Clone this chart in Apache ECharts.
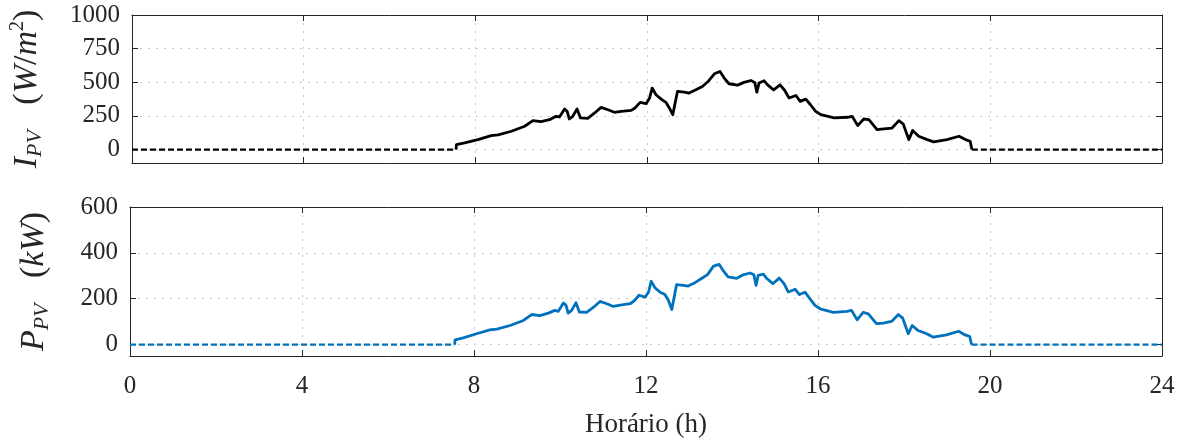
<!DOCTYPE html>
<html>
<head>
<meta charset="utf-8">
<script src="https://cdn.jsdelivr.net/npm/echarts@6/dist/echarts.min.js"></script>
<style>
  html, body { margin: 0; padding: 0; background: #fff; }
  #chart { width: 1184px; height: 439px; }
</style>
</head>
<body>
<div id="chart"></div>
<script>
// Hour of day (h)
const hours = [0, 7.55, 7.56, 7.75, 8.06, 8.37, 8.53, 8.84, 9.15, 9.34, 9.53, 9.73, 9.88, 9.96,
  10.08, 10.14, 10.19, 10.27, 10.37, 10.45, 10.62, 10.78, 10.93, 11.09, 11.24, 11.40, 11.63,
  11.72, 11.84, 11.98, 12.06, 12.12, 12.21, 12.33, 12.44, 12.52, 12.60, 12.71, 12.87, 12.98,
  13.14, 13.29, 13.43, 13.57, 13.70, 13.80, 13.91, 14.11, 14.26, 14.42, 14.51, 14.56, 14.61,
  14.73, 14.81, 14.95, 15.10, 15.21, 15.31, 15.47, 15.57, 15.70, 15.81, 15.93, 16.05, 16.36,
  16.67, 16.78, 16.91, 17.05, 17.17, 17.36, 17.52, 17.71, 17.87, 17.97, 18.10, 18.19, 18.33,
  18.53, 18.68, 18.99, 19.27, 19.42, 19.53, 19.57, 24];

// Solar irradiance I_PV (W/m²)
const irradiance = [0, 0, 37, 50, 74, 104, 109, 136, 173, 215, 207, 222, 247, 242,
  301, 284, 227, 247, 301, 235, 232, 272, 313, 296, 277, 284, 291,
  309, 351, 341, 383, 457, 407, 375, 351, 309, 259, 432, 427, 420,
  444, 469, 508, 563, 580, 531, 489, 479, 499, 513, 499, 427, 494,
  511, 481, 444, 481, 439, 383, 402, 358, 375, 333, 284, 259, 235,
  240, 247, 178, 227, 222, 148, 153, 160, 215, 190, 74, 141, 99,
  74, 57, 74, 99, 74, 62, 0, 0];

// PV power P_PV (kW)
const power = [0, 0, 20, 29, 47, 64, 67, 83, 105, 131, 126, 137, 149, 145,
  181, 171, 137, 149, 182, 142, 140, 163, 188, 178, 166, 172, 178,
  190, 215, 207, 229, 276, 247, 228, 218, 193, 153, 261, 258, 255,
  270, 288, 305, 342, 350, 321, 295, 289, 304, 312, 304, 258, 302,
  307, 288, 266, 290, 266, 229, 241, 218, 228, 200, 171, 156, 140,
  145, 149, 108, 140, 134, 91, 93, 101, 131, 115, 47, 83, 61,
  47, 32, 42, 58, 42, 35, 0, 0];

const irrTicks = [0, 250, 500, 750, 1000];
const powTicks = [0, 200, 400, 600];

// Split each curve into the flat night-time stretches (dashed) and the daytime part (solid)
function splitRuns(values) {
  const first = values.findIndex(v => v > 0);
  let last = values.length - 1;
  while (values[last] <= 0) last--;
  const day = [], night = [];
  for (let i = first - 1; i <= last + 1; i++) day.push([hours[i], values[i]]);
  for (let i = 0; i < first; i++) night.push([hours[i], values[i]]);
  night.push([hours[first - 1], null]);
  for (let i = last + 1; i < hours.length; i++) night.push([hours[i], values[i]]);
  return { day, night };
}

const FONT = 'Liberation Serif';
const TXT = '#262626';
const tickFont = { fontFamily: FONT, fontSize: 25, color: TXT };
const gridDot = { show: true, lineStyle: { color: '#c8c8c8', type: [2, 6], width: 1 } };
const frameLine = { show: true, onZero: false, lineStyle: { color: TXT, width: 1 } };
const tickStyle = { show: true, inside: true, length: 6, lineStyle: { color: TXT } };

// Dotted horizontal guides at the tick values (the top one coincides with the frame)
function hGrid(vals) {
  return {
    silent: true, symbol: 'none', label: { show: false }, z: 0,
    lineStyle: { color: '#c8c8c8', type: [2, 6], width: 1 },
    data: vals.slice(0, -1).map(v => ({ yAxis: v })), animation: false
  };
}

const irr = splitRuns(irradiance);
const pow = splitRuns(power);

const richName = {
  i: { fontFamily: FONT, fontStyle: 'italic', fontSize: 34, color: TXT, verticalAlign: 'middle', lineHeight: 38 },
  n: { fontFamily: FONT, fontSize: 34, color: TXT, verticalAlign: 'middle', lineHeight: 38 },
  s: { fontFamily: FONT, fontStyle: 'italic', fontSize: 22, color: TXT, verticalAlign: 'bottom', lineHeight: 22 },
  p: { fontFamily: FONT, fontSize: 20, color: TXT, verticalAlign: 'top', lineHeight: 20 }
};

const xBase = (gridIndex, showLabels) => ({
  type: 'value', gridIndex, min: 0, max: 24, interval: 4,
  axisLine: frameLine, axisTick: tickStyle,
  axisLabel: Object.assign({ show: showLabels, margin: 18 }, tickFont),
  splitLine: gridDot
});
const xTop = (gridIndex) => ({
  type: 'value', gridIndex, position: 'top', min: 0, max: 24, interval: 4,
  axisLine: frameLine, axisTick: tickStyle,
  axisLabel: { show: false }, splitLine: { show: false }
});
const yAxisDef = (gridIndex, min, max, ticks, position, withLabels, name, gap) => ({
  type: 'value', gridIndex, min, max, position,
  axisLine: frameLine,
  axisTick: Object.assign({ customValues: ticks }, tickStyle),
  axisLabel: Object.assign({ show: withLabels, margin: 12, customValues: ticks, formatter: v => String(v) }, tickFont),
  splitLine: { show: false },
  name: name || '', nameLocation: 'middle', nameRotate: 90, nameGap: gap || 0,
  nameTextStyle: { rich: richName }
});

const option = {
  animation: false,
  backgroundColor: '#fff',
  grid: [
    { left: 130, right: 22, top: 15, height: 148 },
    { left: 130, right: 22, top: 207, height: 149 }
  ],
  xAxis: [
    xBase(0, false), xTop(0),
    Object.assign(xBase(1, true), {
      name: 'Horário (h)', nameLocation: 'middle', nameGap: 55,
      nameTextStyle: { fontFamily: FONT, fontSize: 27, color: TXT }
    }),
    xTop(1)
  ],
  yAxis: [
    yAxisDef(0, -100, 1000, irrTicks, 'left', true, '{i|I}{s|PV}{n|   (}{i|W}{n|/}{i|m}{p|2}{n|)}', 86),
    yAxisDef(0, -100, 1000, irrTicks, 'right', false),
    yAxisDef(1, -50, 600, powTicks, 'left', true, '{i|P}{s|PV}{n|   (}{i|kW}{n|)}', 77),
    yAxisDef(1, -50, 600, powTicks, 'right', false)
  ],
  series: [
    { type: 'line', xAxisIndex: 0, yAxisIndex: 0, data: [], z: 0, markLine: hGrid(irrTicks), silent: true },
    { type: 'line', xAxisIndex: 2, yAxisIndex: 2, data: [], z: 0, markLine: hGrid(powTicks), silent: true },
    { type: 'line', xAxisIndex: 0, yAxisIndex: 0, data: irr.night, z: 5, showSymbol: false, connectNulls: false,
      lineStyle: { color: '#000', width: 2.2, type: [6, 3] } },
    { type: 'line', xAxisIndex: 0, yAxisIndex: 0, data: irr.day, z: 5, showSymbol: false,
      lineStyle: { color: '#000', width: 2.8, join: 'round' } },
    { type: 'line', xAxisIndex: 2, yAxisIndex: 2, data: pow.night, z: 5, showSymbol: false, connectNulls: false,
      lineStyle: { color: '#0072BD', width: 2.2, type: [6, 3] } },
    { type: 'line', xAxisIndex: 2, yAxisIndex: 2, data: pow.day, z: 5, showSymbol: false,
      lineStyle: { color: '#0072BD', width: 2.8, join: 'round' } }
  ]
};

const chart = echarts.init(document.getElementById('chart'), null, { renderer: 'canvas' });
chart.setOption(option);
</script>
</body>
</html>
